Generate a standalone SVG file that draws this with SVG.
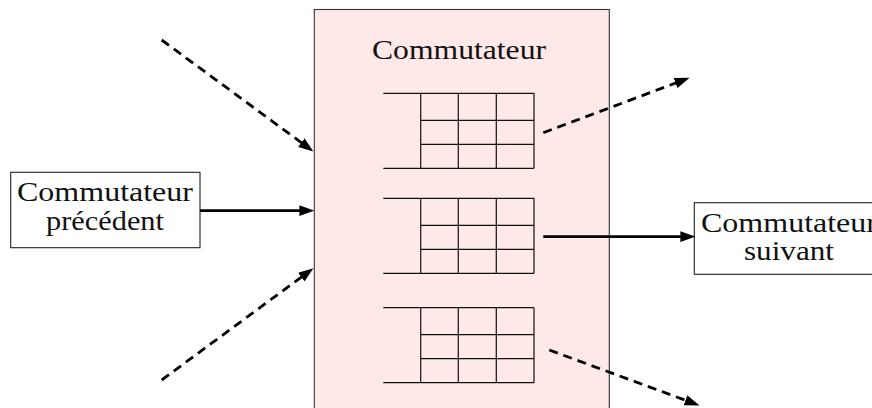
<svg xmlns="http://www.w3.org/2000/svg" xmlns:xlink="http://www.w3.org/1999/xlink" width="872" height="408" viewBox="0 0 872 408">
<defs>
<style>
.box{fill:#ffffff;stroke:#222;stroke-width:1.1}
.main{fill:#ffe8e8;stroke:#333;stroke-width:1.1}
.grid{stroke:#111;stroke-width:1.2;fill:none}
.lbl{font-family:"Liberation Serif","Times New Roman",serif;font-size:27px;fill:#111;text-anchor:middle}
.arr{stroke:#000;stroke-width:2.8;fill:none;marker-end:url(#ah)}
.dash{stroke-dasharray:9 6}
</style>
<marker id="ah" markerUnits="userSpaceOnUse" markerWidth="15" markerHeight="12" refX="9" refY="5" orient="auto" viewBox="0 0 14 10">
<path d="M0,0 L14,5 L0,10 z" fill="#000"/>
</marker>
<g id="queue" class="grid">
<path d="M383.3,0 H534 M383.3,75 H534 M420.7,0 V75 M458.3,0 V75 M496.3,0 V75 M534,0 V75 M420.7,27 H534 M420.7,51 H534"/>
</g>
</defs>
<rect width="872" height="408" fill="#fff"/>
<g id="switch">
<rect class="main" x="314.3" y="9.5" width="295" height="420"/>
<text class="lbl" x="459" y="58.5" textLength="174" lengthAdjust="spacingAndGlyphs">Commutateur</text>
<use xlink:href="#queue" href="#queue" transform="translate(0,93.3)"/>
<use xlink:href="#queue" href="#queue" transform="translate(0,198.3)"/>
<use xlink:href="#queue" href="#queue" transform="translate(0,307.7)"/>
</g>
<g id="prev">
<rect class="box" x="10.7" y="172.3" width="189.3" height="75.4"/>
<text class="lbl" x="105" y="201.2" textLength="176" lengthAdjust="spacingAndGlyphs">Commutateur</text>
<text class="lbl" x="105" y="230" textLength="118" lengthAdjust="spacingAndGlyphs">précédent</text>
</g>
<g id="next">
<rect class="box" x="694.3" y="202.7" width="189.3" height="71.6"/>
<text class="lbl" x="789" y="231.5" textLength="176" lengthAdjust="spacingAndGlyphs">Commutateur</text>
<text class="lbl" x="789" y="260" textLength="90" lengthAdjust="spacingAndGlyphs">suivant</text>
</g>
<g id="connectors">
<line class="arr" x1="200" y1="210.7" x2="309" y2="210.7"/>
<line class="arr" x1="543.3" y1="236.7" x2="690" y2="236.7"/>
<line class="arr dash" x1="161.7" y1="40" x2="309.1" y2="148.3"/>
<line class="arr dash" x1="161.7" y1="380" x2="309.1" y2="271.4"/>
<line class="arr dash" x1="543.3" y1="132.7" x2="684.6" y2="79.7"/>
<line class="arr dash" x1="549.3" y1="350" x2="694.5" y2="403.6"/>
</g>
</svg>
